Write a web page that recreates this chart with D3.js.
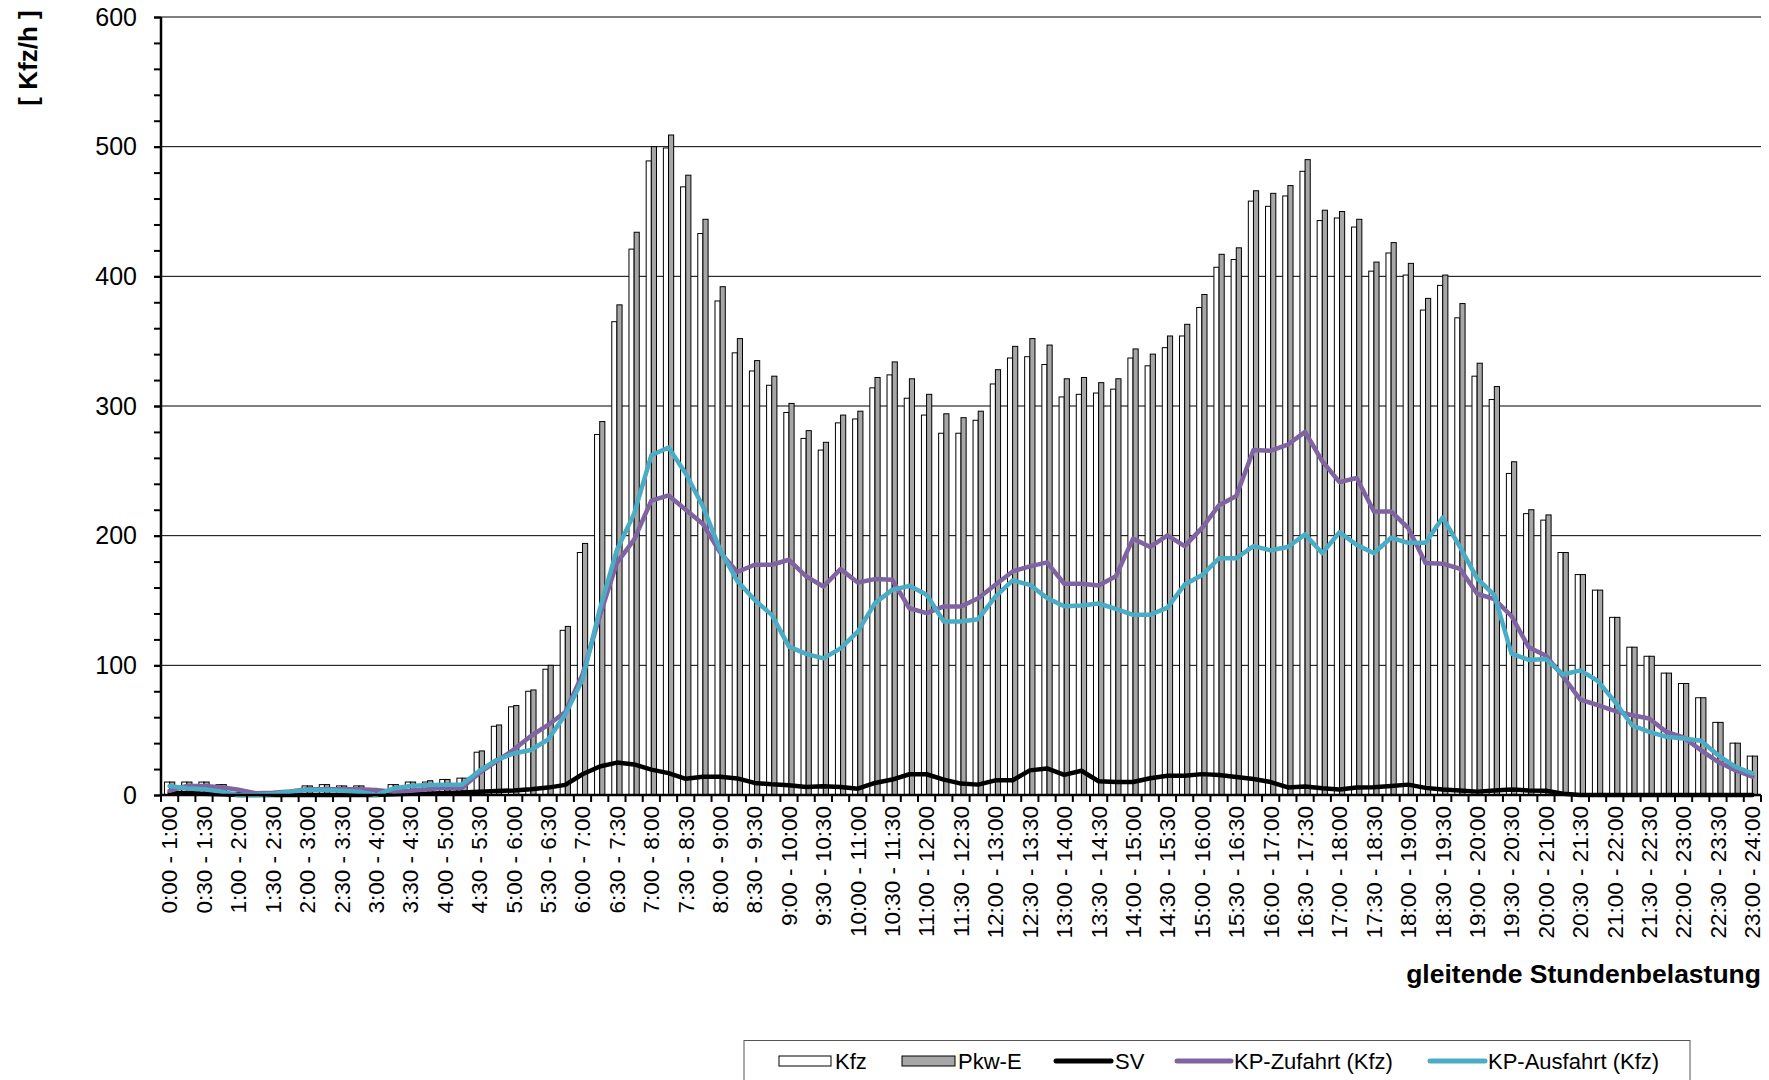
<!DOCTYPE html>
<html><head><meta charset="utf-8">
<script src="https://cdn.jsdelivr.net/npm/d3@7"></script>
<style>body{margin:0;background:#fff;} svg{display:block;font-family:"Liberation Sans",Arial,sans-serif;}</style>
</head><body><svg id="chart" width="1769" height="1080"></svg>
<script>
const categories = [
"0:00 - 1:00","0:15 - 1:15","0:30 - 1:30","0:45 - 1:45",
"1:00 - 2:00","1:15 - 2:15","1:30 - 2:30","1:45 - 2:45",
"2:00 - 3:00","2:15 - 3:15","2:30 - 3:30","2:45 - 3:45",
"3:00 - 4:00","3:15 - 4:15","3:30 - 4:30","3:45 - 4:45",
"4:00 - 5:00","4:15 - 5:15","4:30 - 5:30","4:45 - 5:45",
"5:00 - 6:00","5:15 - 6:15","5:30 - 6:30","5:45 - 6:45",
"6:00 - 7:00","6:15 - 7:15","6:30 - 7:30","6:45 - 7:45",
"7:00 - 8:00","7:15 - 8:15","7:30 - 8:30","7:45 - 8:45",
"8:00 - 9:00","8:15 - 9:15","8:30 - 9:30","8:45 - 9:45",
"9:00 - 10:00","9:15 - 10:15","9:30 - 10:30","9:45 - 10:45",
"10:00 - 11:00","10:15 - 11:15","10:30 - 11:30","10:45 - 11:45",
"11:00 - 12:00","11:15 - 12:15","11:30 - 12:30","11:45 - 12:45",
"12:00 - 13:00","12:15 - 13:15","12:30 - 13:30","12:45 - 13:45",
"13:00 - 14:00","13:15 - 14:15","13:30 - 14:30","13:45 - 14:45",
"14:00 - 15:00","14:15 - 15:15","14:30 - 15:30","14:45 - 15:45",
"15:00 - 16:00","15:15 - 16:15","15:30 - 16:30","15:45 - 16:45",
"16:00 - 17:00","16:15 - 17:15","16:30 - 17:30","16:45 - 17:45",
"17:00 - 18:00","17:15 - 18:15","17:30 - 18:30","17:45 - 18:45",
"18:00 - 19:00","18:15 - 19:15","18:30 - 19:30","18:45 - 19:45",
"19:00 - 20:00","19:15 - 20:15","19:30 - 20:30","19:45 - 20:45",
"20:00 - 21:00","20:15 - 21:15","20:30 - 21:30","20:45 - 21:45",
"21:00 - 22:00","21:15 - 22:15","21:30 - 22:30","21:45 - 22:45",
"22:00 - 23:00","22:15 - 23:15","22:30 - 23:30","22:45 - 23:45",
"23:00 - 24:00"];

const tickLabels = [
"0:00 - 1:00","0:30 - 1:30","1:00 - 2:00","1:30 - 2:30","2:00 - 3:00","2:30 - 3:30",
"3:00 - 4:00","3:30 - 4:30","4:00 - 5:00","4:30 - 5:30","5:00 - 6:00","5:30 - 6:30",
"6:00 - 7:00","6:30 - 7:30","7:00 - 8:00","7:30 - 8:30","8:00 - 9:00","8:30 - 9:30",
"9:00 - 10:00","9:30 - 10:30","10:00 - 11:00","10:30 - 11:30","11:00 - 12:00","11:30 - 12:30",
"12:00 - 13:00","12:30 - 13:30","13:00 - 14:00","13:30 - 14:30","14:00 - 15:00","14:30 - 15:30",
"15:00 - 16:00","15:30 - 16:30","16:00 - 17:00","16:30 - 17:30","17:00 - 18:00","17:30 - 18:30",
"18:00 - 19:00","18:30 - 19:30","19:00 - 20:00","19:30 - 20:30","20:00 - 21:00","20:30 - 21:30",
"21:00 - 22:00","21:30 - 22:30","22:00 - 23:00","22:30 - 23:30","23:00 - 24:00"];

const kfz = [10,10,10,8,2,1,1,2,7,8,
 7,7,3,8,10,10,12,13,33,53,
 68,80,97,127,187,278,365,421,489,499,
 469,433,381,341,327,316,295,275,266,287,
 290,314,324,306,293,279,279,289,317,337,
 338,332,307,309,310,313,337,331,345,354,
 376,407,413,458,454,462,481,443,445,438,
 404,418,401,374,393,368,323,305,248,217,
 212,187,170,158,137,114,107,94,86,75,
 56,40,30];

const pkwE = [10,10,10,8,2,1,1,2,7,8,
 7,7,3,8,10,11,12,13,34,54,
 69,81,100,130,194,288,378,434,500,509,
 478,444,392,352,335,323,302,281,272,293,
 296,322,334,321,309,294,291,296,328,346,
 352,347,321,322,318,321,344,340,354,363,
 386,417,422,466,464,470,490,451,450,444,
 411,426,410,383,401,379,333,315,257,220,
 216,187,170,158,137,114,107,94,86,75,
 56,40,30];

const sv = [1.5,1.5,1,0.5,0,0,0,0,0,0,
 0,0,0,0.5,1,1,1.5,2,2.5,3,
 3.5,4.4,5.7,7.8,16,22,25,23.6,19.6,16.9,
 12.5,14,14,12.8,9.3,8.2,7.5,6.2,6.7,6.2,
 4.9,9.3,11.9,16,16,11.9,8.8,8,11.3,11.3,
 19,20.5,15.5,18.7,10.6,10,10,12.9,14.8,14.8,
 16.1,15.5,13.9,12.3,10,5.8,6.5,5.2,4.2,5.8,
 6,7,8,5.5,4.2,3.5,2.6,3.5,4.2,3.5,
 3.3,1,0,0,0,0,0,0,0,0,
 0,0,0];

const zufahrt = [3.3,7,7,6,4,1.3,1.8,2.8,4.4,4.4,
 4.4,4.4,3.9,2.6,3.3,4.4,5.5,5.5,17,26,
 35,45.5,54,64,93,138,179,197,227,231,
 220,209,187,172,177.6,177.6,181.4,168.6,160.8,174.2,
 163.9,166.5,166,144,140.2,145.4,145.4,151.8,162.1,172.4,
 176.3,179.4,162.9,162.9,161.6,168.7,197.7,191.3,200.3,191.9,
 205.8,223.5,230.6,266.1,265.5,270.3,280,257.4,241.3,244.5,
 218.7,218.7,205.8,179,178.4,174.5,155.2,151,138,113.9,
 107.4,91.3,73.5,69.4,64.8,61.5,59,48.7,44.4,34.6,
 25.6,19.2,14.1];

const ausfahrt = [7,5,4.4,2.6,0,0,0.8,2.6,3.9,3.9,
 3.3,2.6,0,5,7,7.7,8,8,18.5,27,
 32,34.7,42.8,62,89,143,189,217,262,268,
 248,222.5,189,165,150.5,138.9,114.4,108.8,105.4,113.1,
 126,148,158.2,161.3,154.4,133.8,133.8,135.6,153,165.5,
 162.1,151.9,145.5,146.1,147.7,143.5,139,139,144.5,162.3,
 169.4,182.6,182.6,191.9,188.7,191.3,201,186.5,202.6,192.9,
 186.5,198.4,194.5,194.5,213.9,191.3,167.1,154.2,109,104.2,
 104.8,92.9,96.1,88.1,72,53.8,48.7,44.9,43.6,41.8,
 30.8,21.8,16.7];

const yTicks = [0,100,200,300,400,500,600];
const yMinorTicks = [0,20,40,60,80,100,120,140,160,180,200,220,240,260,280,300,320,340,360,380,400,420,440,460,480,500,520,540,560,580,600];
const barKeys = ["Kfz","Pkw-E"];
const legendItems = [
 {name:"Kfz", type:"bar", color:"#ffffff"},
 {name:"Pkw-E", type:"bar", color:"#a6a6a6"},
 {name:"SV", type:"line", color:"#000000"},
 {name:"KP-Zufahrt (Kfz)", type:"line", color:"#8064a2"},
 {name:"KP-Ausfahrt (Kfz)", type:"line", color:"#4bacc6"}];
const yTitle = "[ Kfz/h ]";
const xTitle = "gleitende Stundenbelastung";

const svg = d3.select("#chart");
const L = 161, R = 1761, T = 17, B = 795;
const x = d3.scaleBand().domain(categories).range([L, R]).padding(0);
const xi = d3.scaleBand().domain(barKeys).range([0, x.bandwidth()]).paddingInner(0).paddingOuter(0.67);
const y = d3.scaleLinear().domain([0, 600]).range([B, T]);

// gridlines
svg.append("g").selectAll("line").data(yTicks.slice(1)).join("line")
  .attr("x1", L).attr("x2", R).attr("y1", d => y(d)).attr("y2", d => y(d))
  .attr("stroke", "#000").attr("stroke-width", 1);

// bars
const barData = categories.flatMap((c, i) => [
  {c, key: "Kfz", v: kfz[i]}, {c, key: "Pkw-E", v: pkwE[i]}]);
svg.append("g").selectAll("rect").data(barData).join("rect")
  .attr("x", d => x(d.c) + xi(d.key))
  .attr("width", xi.bandwidth())
  .attr("y", d => y(d.v))
  .attr("height", d => y(0) - y(d.v))
  .attr("fill", d => d.key === "Kfz" ? "#ffffff" : "#a6a6a6")
  .attr("stroke", "#000").attr("stroke-width", 1);

// lines
const line = d3.line().x((d, i) => x(categories[i]) + x.bandwidth() / 2).y(d => y(d));
[[sv, "#000000"], [zufahrt, "#8064a2"], [ausfahrt, "#4bacc6"]].forEach(([data, col]) => {
  svg.append("path").datum(data).attr("d", line).attr("fill", "none")
    .attr("stroke", col).attr("stroke-width", 4.5)
    .attr("stroke-linejoin", "round").attr("stroke-linecap", "round");
});

// y axis
const yMinor = svg.append("g").attr("transform", `translate(${L},0)`)
  .call(d3.axisLeft(y).tickValues(yMinorTicks).tickSize(7).tickFormat(""));
yMinor.select(".domain").remove();
yMinor.selectAll("line").attr("stroke-width", 2);
const yAx = svg.append("g").attr("transform", `translate(${L},0)`)
  .call(d3.axisLeft(y).tickValues(yTicks).tickSize(7).tickPadding(17));
yAx.select(".domain").remove();
yAx.selectAll("line").attr("stroke-width", 2);
yAx.selectAll("text").attr("font-size", 25).attr("font-family", "Liberation Sans, Arial, sans-serif").attr("fill", "#000");
svg.append("line").attr("x1", L).attr("x2", L).attr("y1", T).attr("y2", B)
  .attr("stroke", "#000").attr("stroke-width", 2.5);

// x axis
const bounds = categories.map(c => x(c)).concat([x.range()[1]]);
svg.append("g").selectAll("line").data(bounds).join("line")
  .attr("x1", d => d).attr("x2", d => d).attr("y1", B).attr("y2", B + 7)
  .attr("stroke", "#000").attr("stroke-width", 2);
const xAx = svg.append("g").attr("transform", `translate(0,${B})`)
  .call(d3.axisBottom(x).tickValues(tickLabels).tickSize(0));
xAx.select(".domain").remove();
xAx.selectAll("text")
  .attr("transform", "rotate(-90)").attr("x", -11).attr("y", 0).attr("dy", "0.35em")
  .attr("text-anchor", "end").attr("font-size", 22.5)
  .attr("font-family", "Liberation Sans, Arial, sans-serif").attr("fill", "#000");
svg.append("line").attr("x1", L).attr("x2", R).attr("y1", B).attr("y2", B)
  .attr("stroke", "#000").attr("stroke-width", 2.5);

// titles
svg.append("text").attr("transform", "translate(37,58) rotate(-90)")
  .attr("text-anchor", "middle").attr("font-size", 26).attr("font-weight", "bold").text(yTitle);
svg.append("text").attr("x", R).attr("y", 983).attr("text-anchor", "end")
  .attr("font-size", 26.5).attr("font-weight", "bold").text(xTitle);

// legend
const lg = svg.append("g");
lg.append("rect").attr("x", 744).attr("y", 1040.5).attr("width", 946).attr("height", 60)
  .attr("fill", "#fff").attr("stroke", "#555").attr("stroke-width", 1);
const legendPos = [{sx: 779, sw: 52, tx: 835}, {sx: 902, sw: 53, tx: 958},
  {sx: 1056, sw: 55, tx: 1115}, {sx: 1177, sw: 54, tx: 1234}, {sx: 1430, sw: 55, tx: 1488}];
const ly = 1061;
legendItems.forEach((it, i) => {
  const p = legendPos[i];
  if (it.type === "bar") {
    lg.append("rect").attr("x", p.sx).attr("y", ly - 5).attr("width", p.sw).attr("height", 10)
      .attr("fill", it.color).attr("stroke", "#000").attr("stroke-width", 1);
  } else {
    lg.append("line").attr("x1", p.sx).attr("x2", p.sx + p.sw).attr("y1", ly).attr("y2", ly)
      .attr("stroke", it.color).attr("stroke-width", 5).attr("stroke-linecap", "round");
  }
  lg.append("text").attr("x", p.tx).attr("y", ly).attr("dy", "0.36em")
    .attr("font-size", 22).text(it.name);
});
</script></body></html>
